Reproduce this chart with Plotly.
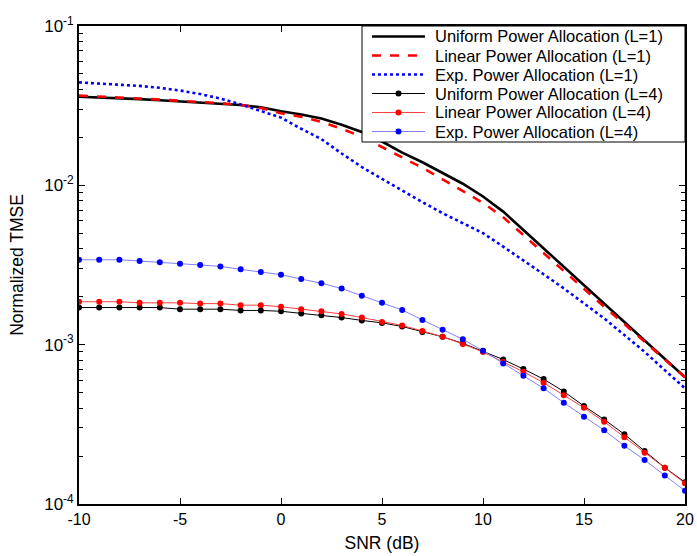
import plotly.graph_objects as go

snr = list(range(-10, 21))

# L=1 curves (log10 of normalized TMSE, negated)
uni_L1_log = [1.444, 1.448, 1.452, 1.459, 1.466, 1.473, 1.481, 1.488, 1.496, 1.510,
              1.535, 1.555, 1.581, 1.620, 1.665, 1.725, 1.795, 1.855, 1.925, 1.990,
              2.070, 2.165, 2.280, 2.395, 2.510, 2.625, 2.740, 2.855, 2.970, 3.090, 3.205]
lin_L1_log = [1.437, 1.442, 1.448, 1.455, 1.462, 1.468, 1.475, 1.484, 1.496, 1.515,
              1.548, 1.570, 1.602, 1.645, 1.695, 1.760, 1.825, 1.890, 1.962, 2.035,
              2.110, 2.200, 2.312, 2.425, 2.542, 2.652, 2.762, 2.870, 2.980, 3.095, 3.205]
exp_L1_log = [1.354, 1.360, 1.367, 1.376, 1.388, 1.405, 1.427, 1.455, 1.492, 1.535,
              1.575, 1.645, 1.710, 1.800, 1.885, 1.960, 2.035, 2.105, 2.175, 2.235,
              2.300, 2.385, 2.469, 2.558, 2.647, 2.740, 2.835, 2.940, 3.045, 3.160, 3.274]

uni_L1 = [10 ** (-v) for v in uni_L1_log]
lin_L1 = [10 ** (-v) for v in lin_L1_log]
exp_L1 = [10 ** (-v) for v in exp_L1_log]

# L=4 curves
uni_L4 = [1.71e-3, 1.71e-3, 1.71e-3, 1.71e-3, 1.71e-3, 1.67e-3, 1.67e-3, 1.67e-3, 1.64e-3, 1.64e-3,
          1.62e-3, 1.57e-3, 1.53e-3, 1.48e-3, 1.42e-3, 1.37e-3, 1.30e-3, 1.20e-3, 1.12e-3, 1.02e-3,
          9.12e-4, 8.07e-4, 7.03e-4, 6.08e-4, 5.08e-4, 4.12e-4, 3.39e-4, 2.74e-4, 2.15e-4, 1.69e-4, 1.37e-4]
lin_L4 = [1.86e-3, 1.86e-3, 1.86e-3, 1.83e-3, 1.83e-3, 1.83e-3, 1.81e-3, 1.81e-3, 1.77e-3, 1.77e-3,
          1.73e-3, 1.67e-3, 1.62e-3, 1.56e-3, 1.48e-3, 1.39e-3, 1.32e-3, 1.22e-3, 1.12e-3, 1.01e-3,
          8.99e-4, 7.78e-4, 6.76e-4, 5.77e-4, 4.81e-4, 4.02e-4, 3.28e-4, 2.62e-4, 2.10e-4, 1.69e-4, 1.35e-4]
exp_L4 = [3.41e-3, 3.41e-3, 3.41e-3, 3.35e-3, 3.29e-3, 3.22e-3, 3.16e-3, 3.10e-3, 2.97e-3, 2.86e-3,
          2.75e-3, 2.58e-3, 2.43e-3, 2.25e-3, 2.03e-3, 1.83e-3, 1.65e-3, 1.43e-3, 1.24e-3, 1.08e-3,
          9.16e-4, 7.63e-4, 6.38e-4, 5.32e-4, 4.32e-4, 3.53e-4, 2.90e-4, 2.32e-4, 1.89e-4, 1.51e-4, 1.21e-4]

names = ["Uniform Power Allocation (L=1)", "Linear Power Allocation (L=1)",
         "Exp. Power Allocation (L=1)", "Uniform Power Allocation (L=4)",
         "Linear Power Allocation (L=4)", "Exp. Power Allocation (L=4)"]

x_ticks = [-10, -5, 0, 5, 10, 15, 20]
x_ticktext = ["-10", "-5", "0", "5", "10", "15", "20"]
y_ticks = [1e-4, 1e-3, 1e-2, 1e-1]
y_ticktext = ["10<sup>-4</sup>", "10<sup>-3</sup>", "10<sup>-2</sup>", "10<sup>-1</sup>"]
y_minor = [k * 10.0 ** e for e in (-4, -3, -2) for k in range(2, 10)]

FONT = "Liberation Sans, Arial, sans-serif"

styles = [
    dict(color="black", width=2.6, dash="solid", marker=None),
    dict(color="#ff0000", width=2.6, dash="dash", marker=None),
    dict(color="#0000ff", width=2.6, dash="dot", marker=None),
    dict(color="black", width=1, dash="solid", marker="black"),
    dict(color="#ff4040", width=1, dash="solid", marker="#ff0000"),
    dict(color="#8080ff", width=1, dash="solid", marker="#0000ff"),
]
series = [uni_L1, lin_L1, exp_L1, uni_L4, lin_L4, exp_L4]

fig = go.Figure()
for nm, ys, st in zip(names, series, styles):
    if st["marker"] is None:
        fig.add_trace(go.Scatter(x=snr, y=ys, mode="lines", name=nm, showlegend=False,
                                 line=dict(color=st["color"], width=st["width"], dash=st["dash"])))
    else:
        fig.add_trace(go.Scatter(x=snr, y=ys, mode="lines+markers", name=nm, showlegend=False,
                                 line=dict(color=st["color"], width=st["width"]),
                                 marker=dict(color=st["marker"], size=6)))

# ---- custom legend box (paper coordinates derived from pixel layout) ----
W, H = 697, 556
ML, MR, MT, MB = 79, 12, 26, 52
PW, PH = W - ML - MR, H - MT - MB


def px(x):
    return (x - ML) / PW


def py(y):
    return (H - MB - y) / PH


shapes = []
annotations = []
row0, row_gap = 36.5, 19.0
box_bottom = row0 + 5 * row_gap + 10.5
shapes.append(dict(type="rect", xref="paper", yref="paper", layer="above",
                   x0=px(362), x1=px(685), y0=py(box_bottom), y1=py(26),
                   fillcolor="white", line=dict(color="black", width=1)))
for i, (nm, st) in enumerate(zip(names, styles)):
    yy = row0 + i * row_gap
    shapes.append(dict(type="line", xref="paper", yref="paper", layer="above",
                       x0=px(372), x1=px(425), y0=py(yy), y1=py(yy),
                       line=dict(color=st["color"], width=st["width"], dash=st["dash"])))
    if st["marker"] is not None:
        r = 3.0
        shapes.append(dict(type="circle", xref="paper", yref="paper", layer="above",
                           x0=px(398.5 - r), x1=px(398.5 + r), y0=py(yy + r), y1=py(yy - r),
                           fillcolor=st["marker"], line=dict(color=st["marker"], width=0)))
    annotations.append(dict(text=nm, xref="paper", yref="paper", x=px(434), y=py(yy),
                            xanchor="left", yanchor="middle", showarrow=False, borderpad=0,
                            font=dict(family=FONT, size=16.5, color="black")))

fig.update_layout(
    width=W, height=H,
    margin=dict(l=ML, r=MR, t=MT, b=MB, autoexpand=False),
    paper_bgcolor="white", plot_bgcolor="white",
    font=dict(family=FONT, size=16, color="black"),
    showlegend=False,
    shapes=shapes,
    annotations=annotations,
)
fig.update_xaxes(
    range=[-10, 20], tickvals=x_ticks, ticktext=x_ticktext, ticks="inside", ticklen=6,
    tickwidth=1, tickcolor="black",
    showline=True, linecolor="black", linewidth=1.8, mirror="ticks",
    showgrid=False, zeroline=False, automargin=False,
    title=dict(text="SNR (dB)", standoff=10, font=dict(size=17.5)),
    tickfont=dict(size=16),
)
fig.update_yaxes(
    type="log", range=[-4, -1], tickvals=y_ticks, ticktext=y_ticktext,
    ticks="inside", ticklen=6, tickwidth=1, tickcolor="black",
    minor=dict(tickvals=y_minor, ticks="inside", ticklen=4, tickcolor="black", showgrid=False),
    showline=True, linecolor="black", linewidth=1.8, mirror="ticks",
    showgrid=False, zeroline=False, automargin=False,
    title=dict(text="Normalized TMSE", standoff=16, font=dict(size=17.5)),
    tickfont=dict(size=17),
)

fig.write_html("out.html", config={"displayModeBar": False},
               post_script="document.body.style.margin='0px';document.body.style.padding='0px';")
